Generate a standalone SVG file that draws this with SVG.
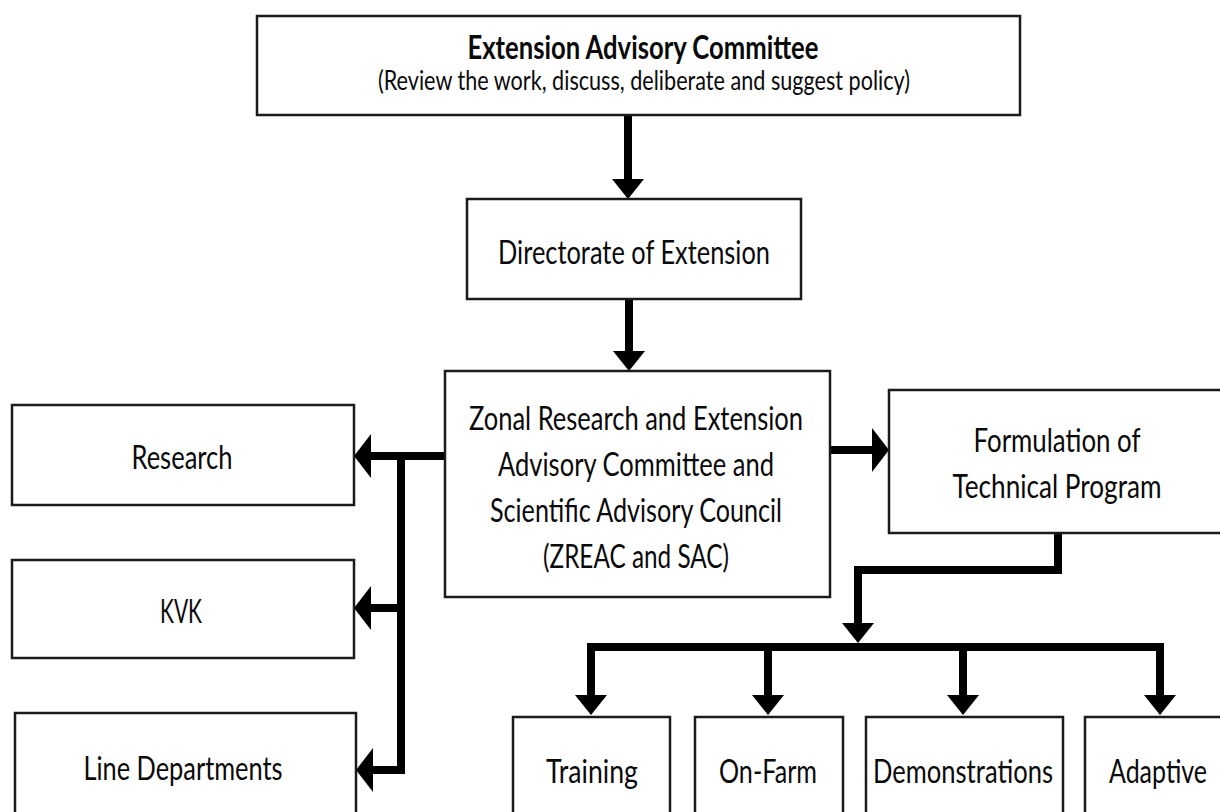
<svg xmlns="http://www.w3.org/2000/svg" width="1220" height="812" viewBox="0 0 1220 812">
  <style>
    .box { fill: #ffffff; stroke: #1a1a1a; stroke-width: 2.5; }
    .t { font-family: Lato, "Open Sans", "Liberation Sans", sans-serif; font-size: 33px; fill: #0a0a0a; text-anchor: middle; }
    .tb { font-weight: bold; font-size: 32px; }
    .ts { font-size: 27px; }
    .c { fill: none; stroke: #000000; stroke-width: 8; stroke-linejoin: miter; }
  </style>
  <defs>
    <marker id="arrowV" viewBox="0 0 20 32" refX="8" refY="16" markerWidth="20" markerHeight="32" markerUnits="userSpaceOnUse" orient="auto">
      <path d="M0,0 L20,16 L0,32 Z" fill="#000000"/>
    </marker>
    <marker id="arrowH" viewBox="0 0 17 44" refX="7" refY="22" markerWidth="17" markerHeight="44" markerUnits="userSpaceOnUse" orient="auto">
      <path d="M0,0 L17,22 L0,44 Z" fill="#000000"/>
    </marker>
  </defs>
  <rect width="1220" height="812" fill="#ffffff"/>

  <g id="connectors">
    <path class="c" d="M628,115 V187" marker-end="url(#arrowV)"/>
    <path class="c" d="M629,299 V359" marker-end="url(#arrowV)"/>
    <path class="c" d="M445,456 H364" marker-end="url(#arrowH)"/>
    <path class="c" d="M401,452 V774"/>
    <path class="c" d="M401,608 H364" marker-end="url(#arrowH)"/>
    <path class="c" d="M401,770 H366" marker-end="url(#arrowH)"/>
    <path class="c" d="M830,450 H879" marker-end="url(#arrowH)"/>
    <path class="c" d="M1058,533 V570 H858 V631" marker-end="url(#arrowV)"/>
    <path class="c" d="M587,647 H1164"/>
    <path class="c" d="M591,643 V703" marker-end="url(#arrowV)"/>
    <path class="c" d="M768,647 V703" marker-end="url(#arrowV)"/>
    <path class="c" d="M963,647 V703" marker-end="url(#arrowV)"/>
    <path class="c" d="M1160,643 V703" marker-end="url(#arrowV)"/>
  </g>

  <g id="node-eac">
    <rect class="box" x="257" y="16" width="763" height="99"/>
    <text class="t tb" x="643" y="59" textLength="351" lengthAdjust="spacingAndGlyphs">Extension Advisory Committee</text>
    <text class="t ts" x="644" y="90" textLength="532" lengthAdjust="spacingAndGlyphs">(Review the work, discuss, deliberate and suggest policy)</text>
  </g>

  <g id="node-directorate">
    <rect class="box" x="467" y="199" width="334" height="100"/>
    <text class="t" x="634" y="264" textLength="272" lengthAdjust="spacingAndGlyphs">Directorate of Extension</text>
  </g>

  <g id="node-zreac">
    <rect class="box" x="445" y="371" width="385" height="226"/>
    <text class="t" x="636" y="430" textLength="334" lengthAdjust="spacingAndGlyphs">Zonal Research and Extension</text>
    <text class="t" x="636" y="476" textLength="276" lengthAdjust="spacingAndGlyphs">Advisory Committee and</text>
    <text class="t" x="636" y="522" textLength="292" lengthAdjust="spacingAndGlyphs">Scientific Advisory Council</text>
    <text class="t" x="636" y="568" textLength="186" lengthAdjust="spacingAndGlyphs">(ZREAC and SAC)</text>
  </g>

  <g id="node-formulation">
    <rect class="box" x="889" y="390" width="337" height="143"/>
    <text class="t" x="1057" y="452" textLength="167" lengthAdjust="spacingAndGlyphs">Formulation of</text>
    <text class="t" x="1057" y="498" textLength="209" lengthAdjust="spacingAndGlyphs">Technical Program</text>
  </g>

  <g id="node-research">
    <rect class="box" x="12" y="405" width="342" height="100"/>
    <text class="t" x="182" y="469" textLength="101" lengthAdjust="spacingAndGlyphs">Research</text>
  </g>

  <g id="node-kvk">
    <rect class="box" x="12" y="560" width="342" height="98"/>
    <text class="t" x="181" y="623" textLength="42" lengthAdjust="spacingAndGlyphs">KVK</text>
  </g>

  <g id="node-line-departments">
    <rect class="box" x="15" y="713" width="341" height="110"/>
    <text class="t" x="183" y="780" textLength="199" lengthAdjust="spacingAndGlyphs">Line Departments</text>
  </g>

  <g id="node-training">
    <rect class="box" x="513" y="717" width="157" height="110"/>
    <text class="t" x="592" y="783" textLength="92" lengthAdjust="spacingAndGlyphs">Training</text>
  </g>

  <g id="node-onfarm">
    <rect class="box" x="695" y="717" width="148" height="110"/>
    <text class="t" x="768" y="783" textLength="98" lengthAdjust="spacingAndGlyphs">On-Farm</text>
  </g>

  <g id="node-demonstrations">
    <rect class="box" x="866" y="717" width="197" height="110"/>
    <text class="t" x="963" y="783" textLength="180" lengthAdjust="spacingAndGlyphs">Demonstrations</text>
  </g>

  <g id="node-adaptive">
    <rect class="box" x="1085" y="717" width="150" height="110"/>
    <text class="t" x="1158" y="783" textLength="98" lengthAdjust="spacingAndGlyphs">Adaptive</text>
  </g>
</svg>
